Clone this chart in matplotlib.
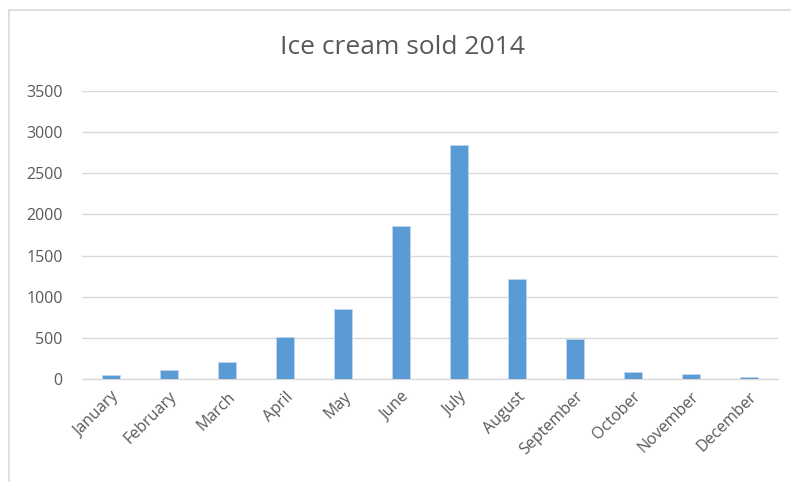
import matplotlib.pyplot as plt
from matplotlib.lines import Line2D

# Ice cream sales per month
months = ['January', 'February', 'March', 'April', 'May', 'June',
          'July', 'August', 'September', 'October', 'November', 'December']
sold = [45, 105, 203, 510, 850, 1855, 2845, 1212, 487, 81, 61, 24]
yticks = [0, 500, 1000, 1500, 2000, 2500, 3000, 3500]

plt.rcParams['font.family'] = ['Open Sans', 'DejaVu Sans']

fig = plt.figure(figsize=(7.91, 4.82), dpi=100)
ax = fig.add_axes([82/791, 1-379/482, (778-82)/791, (379-91)/482])

# chart border (only top and left visible in the crop)
fig.lines.append(Line2D([9/791, 1.0], [1-10/482, 1-10/482], transform=fig.transFigure,
                        color='#D9D9D9', linewidth=1.2))
fig.lines.append(Line2D([9/791, 9/791], [0.0, 1-10/482], transform=fig.transFigure,
                        color='#D9D9D9', linewidth=1.2))

x = range(len(months))
ax.bar(x, sold, width=0.31, color='#5B9BD5', edgecolor='#BDD7EE', linewidth=0.6, zorder=3)

ax.set_xlim(-0.5, 11.5)
ax.set_ylim(0, 3500)
ax.set_yticks(yticks)
ax.set_yticklabels([str(v) for v in yticks])
ax.set_xticks(list(x))
ax.set_xticklabels(months, rotation=45, ha='right', rotation_mode='anchor')

ax.grid(axis='y', color='#D9D9D9', linewidth=1, zorder=0)
for s in ['top', 'right', 'left']:
    ax.spines[s].set_visible(False)
ax.spines['bottom'].set_color('#D9D9D9')
ax.spines['bottom'].set_linewidth(1)

ax.tick_params(axis='y', length=0, pad=14, labelsize=11.5, labelcolor='#595959')
ax.tick_params(axis='x', length=0, pad=7, labelsize=11.5, labelcolor='#595959')

fig.text(402/791, 1-47/482, 'Ice cream sold 2014', ha='center', va='center',
         fontsize=19, color='#595959')

fig.savefig('out.png', dpi=100)
